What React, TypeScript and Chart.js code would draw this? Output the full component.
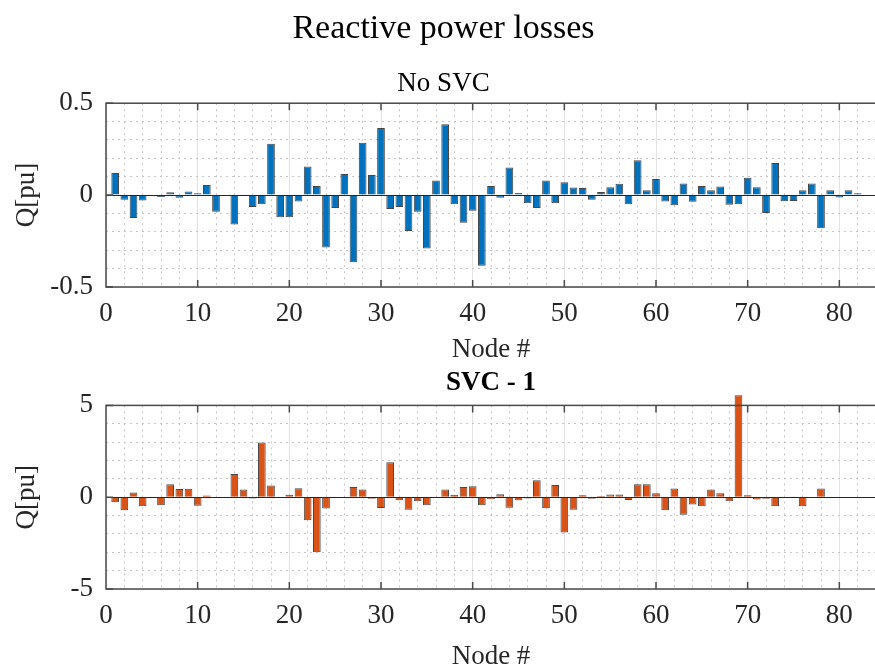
import React, { useEffect, useRef } from 'react';
import { Chart, registerables } from 'chart.js';

Chart.register(...registerables);

const nodes = [
  1, 2, 3, 4, 5, 6, 7, 8, 9, 10, 11, 12, 13, 14, 15, 16, 17, 18, 19, 20,
  21, 22, 23, 24, 25, 26, 27, 28, 29, 30, 31, 32, 33, 34, 35, 36, 37, 38, 39, 40,
  41, 42, 43, 44, 45, 46, 47, 48, 49, 50, 51, 52, 53, 54, 55, 56, 57, 58, 59, 60,
  61, 62, 63, 64, 65, 66, 67, 68, 69, 70, 71, 72, 73, 74, 75, 76, 77, 78, 79, 80,
  81, 82,
];

const qNoSvc = [
  0.12, -0.025, -0.125, -0.03, 0, -0.01, 0.015, -0.015, 0.02, 0.01,
  0.055, -0.09, 0.003, -0.16, 0.005, -0.065, -0.05, 0.28, -0.12, -0.12,
  -0.035, 0.155, 0.05, -0.285, -0.07, 0.115, -0.365, 0.285, 0.11, 0.365,
  -0.075, -0.065, -0.195, -0.09, -0.29, 0.08, 0.385, -0.05, -0.15, -0.085,
  -0.385, 0.05, -0.015, 0.15, 0.012, -0.045, -0.07, 0.08, -0.045, 0.07,
  0.042, 0.038, -0.025, 0.017, 0.043, 0.062, -0.05, 0.19, 0.027, 0.087,
  -0.035, -0.055, 0.063, -0.036, 0.05, 0.027, 0.047, -0.053, -0.05, 0.094,
  0.043, -0.098, 0.175, -0.034, -0.032, 0.027, 0.063, -0.18, 0.027, -0.013,
  0.027, 0.01,
];

const qSvc1 = [
  -0.27, -0.71, 0.26, -0.49, 0, -0.44, 0.7, 0.44, 0.46, -0.46,
  0.09, -0.05, 0, 1.26, 0.42, -0.07, 2.98, 0.64, 0.02, 0.13,
  0.49, -1.25, -3.0, -0.62, 0.02, 0.02, 0.55, 0.42, -0.09, -0.59,
  1.9, -0.16, -0.68, -0.22, -0.44, 0.02, 0.42, 0.13, 0.55, 0.59,
  -0.44, -0.11, 0.16, -0.57, -0.16, -0.07, 0.93, -0.6, 0.66, -1.92,
  -0.68, 0.1, -0.09, 0.07, 0.15, 0.15, -0.15, 0.7, 0.71, 0.22,
  -0.71, 0.48, -0.95, -0.4, -0.49, 0.42, 0.22, -0.22, 5.55, 0.1,
  -0.13, -0.09, -0.49, -0.03, 0.01, -0.49, -0.03, 0.48, 0.02, 0.02,
  0.02, 0.02,
];

const xTickLabels = [0, 10, 20, 30, 40, 50, 60, 70, 80];
const yTicksTop = [-0.5, 0, 0.5];
const yTicksBottom = [-5, 0, 5];

const MAIN_TITLE = 'Reactive power losses';
const TOP_TITLE = 'No SVC';
const BOTTOM_TITLE = 'SVC - 1';
const X_TITLE = 'Node #';
const Y_TITLE = 'Q[pu]';

const FONT = "'Liberation Serif', 'Times New Roman', serif";
const TXT = '#262626';
const MAJOR_GRID = '#e2e2e2';
const MINOR_GRID = '#c6c6c6';

function isMult(v: number, m: number) {
  const r = v / m;
  return Math.abs(r - Math.round(r)) < 1e-6;
}

const boxPlugin = {
  id: 'matlabBox',
  afterDatasetsDraw(chart: any, _args: any, opts: any) {
    const { ctx, chartArea: a } = chart;
    const xs = chart.scales.x;
    const ys = chart.scales.y;
    ctx.save();
    ctx.strokeStyle = '#262626';
    ctx.lineWidth = 1;
    const y0 = Math.round(ys.getPixelForValue(0)) + 0.5;
    ctx.beginPath();
    ctx.moveTo(a.left, y0);
    ctx.lineTo(a.right, y0);
    ctx.stroke();
    ctx.strokeStyle = '#4a4a4a';
    ctx.lineWidth = 1.5;
    ctx.strokeRect(a.left, a.top, a.right - a.left, a.bottom - a.top);
    ctx.beginPath();
    for (const v of opts.xMajor || []) {
      const px = xs.getPixelForValue(v);
      ctx.moveTo(px, a.top);
      ctx.lineTo(px, a.top + 7);
      ctx.moveTo(px, a.bottom);
      ctx.lineTo(px, a.bottom - 7);
    }
    for (const v of opts.yMajor || []) {
      const py = ys.getPixelForValue(v);
      ctx.moveTo(a.left, py);
      ctx.lineTo(a.left + 7, py);
    }
    ctx.stroke();
    ctx.restore();
  },
};

function makeConfig(p: {
  values: number[];
  color: string;
  yMin: number;
  yMax: number;
  yStep: number;
  yMajorStep: number;
  yMajor: number[];
  title: any;
  subtitle: any;
  xHeight: number;
  xTitlePadBottom: number;
  clip: any;
}) {
  const data = nodes.map((n, i) => ({ x: n, y: p.values[i] }));
  return {
    type: 'bar',
    data: {
      datasets: [
        {
          data,
          backgroundColor: p.color,
          borderColor: 'rgba(25,25,25,0.8)',
          borderWidth: 1,
          barPercentage: 0.84,
          categoryPercentage: 1,
          clip: p.clip,
        },
      ],
    },
    options: {
      animation: false,
      responsive: false,
      layout: { padding: 0 },
      plugins: {
        legend: { display: false },
        tooltip: { enabled: false },
        title: p.title,
        subtitle: p.subtitle,
        matlabBox: { xMajor: xTickLabels.slice(1), yMajor: p.yMajor },
      },
      scales: {
        x: {
          type: 'linear',
          min: 0,
          max: 84,
          offset: false,
          afterFit: (s: any) => {
            s.height = p.xHeight;
          },
          ticks: {
            stepSize: 2,
            autoSkip: false,
            maxRotation: 0,
            minRotation: 0,
            padding: 11,
            color: TXT,
            font: { family: FONT, size: 27 },
            callback: (v: number) =>
              xTickLabels.some((t) => Math.abs(t - v) < 1e-6) ? String(v) : '',
          },
          grid: {
            drawTicks: false,
            offset: false,
            lineWidth: 1,
            color: (ctx: any) =>
              ctx.tick && isMult(ctx.tick.value, 10) ? MAJOR_GRID : MINOR_GRID,
          },
          border: {
            display: false,
            dash: (ctx: any) =>
              ctx.tick && !isMult(ctx.tick.value, 10) ? [2, 4] : [],
          },
          title: {
            display: true,
            text: X_TITLE,
            color: TXT,
            font: { family: FONT, size: 27, lineHeight: 1.1 },
            padding: { top: 0, bottom: p.xTitlePadBottom },
          },
        },
        y: {
          type: 'linear',
          min: p.yMin,
          max: p.yMax,
          afterFit: (s: any) => {
            s.width = 106;
          },
          ticks: {
            stepSize: p.yStep,
            autoSkip: false,
            padding: 13,
            color: TXT,
            font: { family: FONT, size: 27 },
            callback: (v: number) =>
              p.yMajor.some((t) => Math.abs(t - v) < 1e-9) ? String(v) : '',
          },
          grid: {
            drawTicks: false,
            lineWidth: 1,
            color: (ctx: any) =>
              ctx.tick && isMult(ctx.tick.value, p.yMajorStep) ? MAJOR_GRID : MINOR_GRID,
          },
          border: {
            display: false,
            dash: (ctx: any) =>
              ctx.tick && !isMult(ctx.tick.value, p.yMajorStep) ? [2, 4] : [],
          },
          title: {
            display: true,
            text: Y_TITLE,
            color: TXT,
            font: { family: FONT, size: 27, lineHeight: 1.2 },
            padding: { top: 11, bottom: 0 },
          },
        },
      },
    },
    plugins: [boxPlugin],
  } as any;
}

export default function App() {
  const topRef = useRef<HTMLCanvasElement>(null);
  const botRef = useRef<HTMLCanvasElement>(null);

  useEffect(() => {
    const top = new Chart(
      topRef.current as HTMLCanvasElement,
      makeConfig({
        values: qNoSvc,
        color: '#0072BD',
        yMin: -0.5,
        yMax: 0.5,
        yStep: 0.1,
        yMajorStep: 0.5,
        yMajor: yTicksTop,
        title: {
          display: true,
          text: MAIN_TITLE,
          color: '#000',
          font: { family: FONT, size: 34, weight: 'normal', lineHeight: 1.2 },
          padding: { top: 9, bottom: 0 },
        },
        subtitle: {
          display: true,
          text: TOP_TITLE,
          color: '#000',
          font: { family: FONT, size: 27, weight: 'normal', lineHeight: 1.2 },
          padding: { top: 18, bottom: 3 },
        },
        xHeight: 78,
        xTitlePadBottom: 0,
        clip: undefined,
      })
    );
    const bot = new Chart(
      botRef.current as HTMLCanvasElement,
      makeConfig({
        values: qSvc1,
        color: '#D95319',
        yMin: -5,
        yMax: 5,
        yStep: 1,
        yMajorStep: 5,
        yMajor: yTicksBottom,
        title: {
          display: true,
          fullSize: false,
          text: BOTTOM_TITLE,
          color: '#000',
          font: { family: FONT, size: 27, weight: 'bold', lineHeight: 1.2 },
          padding: { top: 2, bottom: 6 },
        },
        subtitle: { display: false },
        xHeight: 77,
        xTitlePadBottom: -6,
        clip: false,
      })
    );
    return () => {
      top.destroy();
      bot.destroy();
    };
  }, []);

  return (
    <div
      style={{
        position: 'fixed',
        left: 0,
        top: 0,
        width: 875,
        height: 666,
        overflow: 'hidden',
        background: '#fff',
      }}
    >
      <canvas
        ref={topRef}
        width={887}
        height={365}
        style={{ position: 'absolute', left: 0, top: 0 }}
      />
      <canvas
        ref={botRef}
        width={887}
        height={301}
        style={{ position: 'absolute', left: 0, top: 365 }}
      />
    </div>
  );
}
